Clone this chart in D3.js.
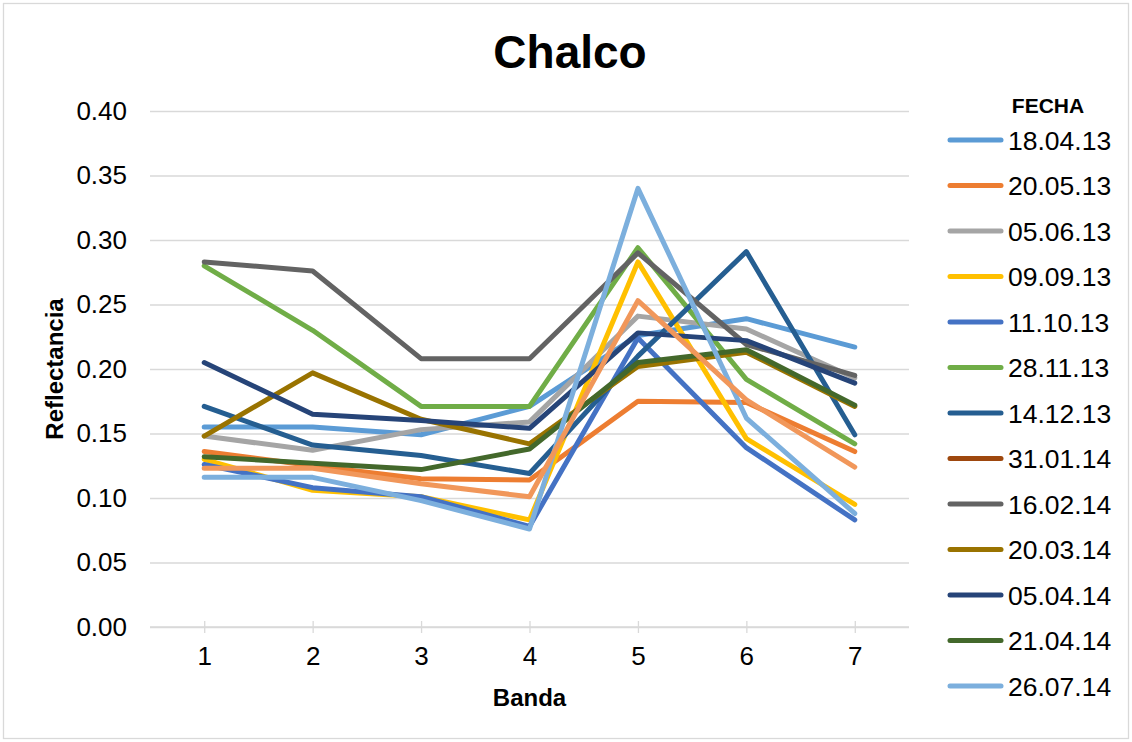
<!DOCTYPE html>
<html>
<head>
<meta charset="utf-8">
<script src="https://cdn.jsdelivr.net/npm/d3@7"></script>
<style>
    body { margin: 0; background: #fff; }
    svg { display: block; font-family: "Liberation Sans", Arial, sans-serif; }
</style>
</head>
<body>
<svg id="chart"></svg>
<script>
// Bands on the x axis
const bands = [1, 2, 3, 4, 5, 6, 7];
const yTicks = [0, 0.05, 0.10, 0.15, 0.20, 0.25, 0.30, 0.35, 0.40];

// Reflectance per date (one value per band)
const d180413 = [0.155, 0.155, 0.149, 0.171, 0.226, 0.239, 0.217];
const d200513 = [0.136, 0.125, 0.115, 0.114, 0.175, 0.174, 0.136];
const d050613 = [0.148, 0.137, 0.153, 0.159, 0.241, 0.231, 0.193];
const d090913 = [0.130, 0.106, 0.101, 0.083, 0.283, 0.146, 0.095];
const d111013 = [0.126, 0.108, 0.101, 0.078, 0.224, 0.139, 0.083];
const d281113 = [0.280, 0.230, 0.171, 0.171, 0.294, 0.192, 0.142];
const d141213 = [0.171, 0.141, 0.133, 0.119, 0.210, 0.291, 0.149];
const d310114 = [];
const d160214 = [0.283, 0.276, 0.208, 0.208, 0.290, 0.219, 0.195];
const d200314 = [0.148, 0.197, 0.161, 0.142, 0.202, 0.213, 0.171];
const d050414 = [0.205, 0.165, 0.160, 0.154, 0.228, 0.222, 0.189];
const d210414 = [0.132, 0.127, 0.122, 0.138, 0.205, 0.215, 0.172];
const d260714 = [0.116, 0.116, 0.098, 0.076, 0.340, 0.162, 0.088];
const extra = [0.123, 0.123, 0.111, 0.101, 0.253, 0.176, 0.124]; // drawn but not in the legend

const series = [
    {name: '18.04.13', values: d180413, color: '#5B9BD5'},
    {name: '20.05.13', values: d200513, color: '#ED7D31'},
    {name: '05.06.13', values: d050613, color: '#A5A5A5'},
    {name: '09.09.13', values: d090913, color: '#FFC000'},
    {name: '11.10.13', values: d111013, color: '#4472C4'},
    {name: '28.11.13', values: d281113, color: '#70AD47'},
    {name: '14.12.13', values: d141213, color: '#255E91'},
    {name: '31.01.14', values: d310114, color: '#9E480E'},
    {name: '16.02.14', values: d160214, color: '#636363'},
    {name: '20.03.14', values: d200314, color: '#997300'},
    {name: '05.04.14', values: d050414, color: '#264478'},
    {name: '21.04.14', values: d210414, color: '#43682B'},
    {name: '26.07.14', values: d260714, color: '#7CAFDD'},
    {name: null, values: extra, color: '#F1975A'}
];

drawChart();

function drawChart() {
    const W = 1132, H = 742;
    const plot = {left: 150, right: 909, top: 111, bottom: 627};

    const svg = d3.select('#chart')
        .attr('width', W)
        .attr('height', H);

    // chart frame
    svg.append('rect')
        .attr('x', 3.5).attr('y', 3.5)
        .attr('width', W - 7).attr('height', H - 7)
        .attr('fill', '#fff')
        .attr('stroke', '#d9d9d9')
        .attr('stroke-width', 1.3);

    const x = d3.scalePoint()
        .domain(bands)
        .range([plot.left, plot.right])
        .padding(0.5);

    const y = d3.scaleLinear()
        .domain([0, 0.4])
        .range([plot.bottom, plot.top]);

    // Y axis + gridlines
    const yAxis = svg.append('g')
        .attr('transform', `translate(${plot.left},0)`)
        .call(d3.axisLeft(y)
            .tickValues(yTicks)
            .tickFormat(d3.format('.2f'))
            .tickSize(-(plot.right - plot.left))
            .tickPadding(23));
    yAxis.select('.domain').remove();
    yAxis.selectAll('line')
        .attr('stroke', '#d9d9d9')
        .attr('stroke-width', 1.3);
    yAxis.selectAll('text')
        .attr('fill', '#000')
        .style('font-size', '26px')
        .style('font-family', '"Liberation Sans", Arial, sans-serif');

    // X axis
    const xAxis = svg.append('g')
        .attr('transform', `translate(0,${plot.bottom})`)
        .call(d3.axisBottom(x).tickSize(6).tickPadding(14));
    xAxis.select('.domain')
        .attr('d', `M${plot.left},0H${plot.right}`)
        .attr('stroke', '#d9d9d9')
        .attr('stroke-width', 1.3);
    xAxis.selectAll('line')
        .attr('y1', -6)
        .attr('stroke', '#d9d9d9')
        .attr('stroke-width', 1.3);
    xAxis.selectAll('text')
        .attr('fill', '#000')
        .style('font-size', '26px')
        .style('font-family', '"Liberation Sans", Arial, sans-serif');

    // Lines
    const line = d3.line()
        .x((d, i) => x(bands[i]))
        .y(d => y(d));

    svg.append('g')
        .selectAll('path')
        .data(series.filter(s => s.values.length))
        .enter()
        .append('path')
        .attr('d', d => line(d.values))
        .attr('fill', 'none')
        .attr('stroke', d => d.color)
        .attr('stroke-width', 5)
        .attr('stroke-linejoin', 'round')
        .attr('stroke-linecap', 'round');

    // Title
    svg.append('text')
        .attr('x', 570)
        .attr('y', 68)
        .attr('text-anchor', 'middle')
        .style('font-size', '46px')
        .style('font-weight', 'bold')
        .text('Chalco');

    // Axis titles
    svg.append('text')
        .attr('x', (plot.left + plot.right) / 2)
        .attr('y', 706)
        .attr('text-anchor', 'middle')
        .style('font-size', '24px')
        .style('font-weight', 'bold')
        .text('Banda');

    svg.append('text')
        .attr('transform', `translate(63,${(plot.top + plot.bottom) / 2}) rotate(-90)`)
        .attr('text-anchor', 'middle')
        .style('font-size', '24px')
        .style('font-weight', 'bold')
        .text('Reflectancia');

    // Legend
    const legend = svg.append('g');
    legend.append('text')
        .attr('x', 1048)
        .attr('y', 113)
        .attr('text-anchor', 'middle')
        .style('font-size', '21px')
        .style('font-weight', 'bold')
        .text('FECHA');

    const items = legend.selectAll('.item')
        .data(series.filter(s => s.name))
        .enter()
        .append('g')
        .attr('class', 'item')
        .attr('transform', (d, i) => `translate(0,${140 + i * 45.5})`);

    items.append('line')
        .attr('x1', 950).attr('x2', 1001)
        .attr('stroke', d => d.color)
        .attr('stroke-width', 5)
        .attr('stroke-linecap', 'round');

    items.append('text')
        .attr('x', 1008)
        .attr('dy', '0.36em')
        .style('font-size', '26.5px')
        .text(d => d.name);
}
</script>
</body>
</html>
